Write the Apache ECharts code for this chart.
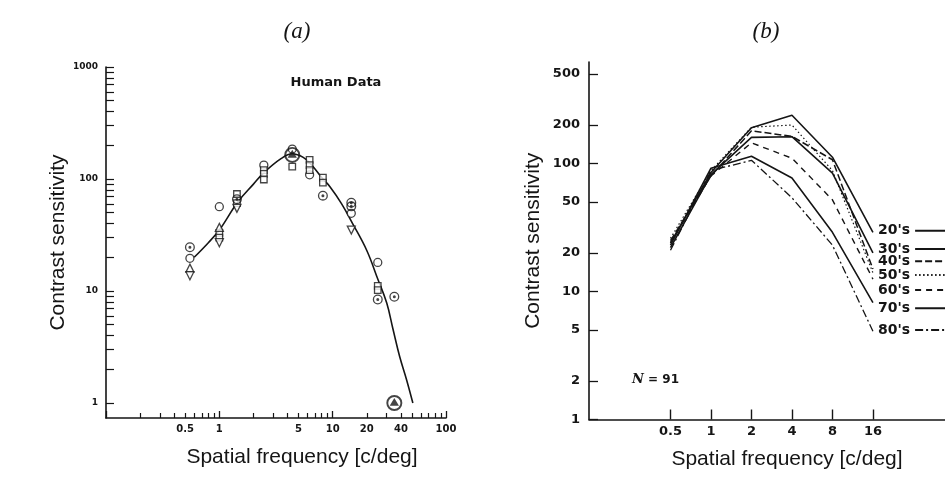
<!DOCTYPE html>
<html><head><meta charset="utf-8">
<script src="https://cdn.jsdelivr.net/npm/echarts@6/dist/echarts.min.js"></script>
<style>html,body{margin:0;padding:0;background:#fff}#c{width:945px;height:478px}</style>
</head><body><div id="c"></div>
<script>
// ---------- Panel (a): Human data ----------
const aXLabels = [0.5, 1, 5, 10, 20, 40, 100];
const aXMajorTicks = [0.1, 1, 10, 100];
const aXMinorTicks = [0.2, 0.3, 0.4, 0.5, 0.6, 0.7, 0.8, 0.9, 2, 3, 4, 5, 6, 7, 8, 9, 20, 30, 40, 50, 60, 70, 80, 90];
const aYLabels = [1, 10, 100, 1000];
const aYTicks = [1, 2, 3, 4, 5, 6, 7, 8, 9, 10, 20, 30, 40, 50, 60, 70, 80, 90, 100, 200, 300, 400, 500, 600, 700, 800, 900, 1000];

const aOpenCircles = [[0.55, 19.6], [1, 56.6], [2.47, 133], [4.4, 185], [6.26, 109], [14.6, 49.4], [25, 18]];
const aSquares = [[1, 33], [1, 30], [1.43, 73.5], [1.43, 61], [2.47, 120], [2.47, 111], [2.47, 99], [4.4, 129],
                  [6.26, 148], [6.26, 133], [6.26, 120], [8.2, 103], [8.2, 93], [25, 11.1], [25, 10.2]];
const aTriangles = [[0.55, 16], [1, 37]];
const aInvTriangles = [[0.55, 13.7], [1, 27], [1.43, 54.7], [14.6, 35]];
const aCircledDots = [[0.55, 24.6], [1.43, 66], [8.2, 71], [14.6, 61.4], [14.6, 57], [25, 8.4], [35, 8.9]];
const aCircledTriangles = [[4.4, 164], [35, 1.0]];
const aFitCurve = [[0.6, 20], [0.8, 27], [1, 35], [1.45, 62], [2, 90], [2.45, 113], [3.5, 152], [4.4, 168], [5.5, 156],
                   [6.5, 134], [8, 103], [9.5, 85], [12, 60], [15, 40], [20, 23], [25, 12.8], [30, 7.8], [34, 4.6],
                   [39, 2.6], [45, 1.6], [51, 1.0]];

// ---------- Panel (b): age groups ----------
const bFreq = [0.5, 1, 2, 4, 8, 16];
const bYTicks = [1, 2, 5, 10, 20, 50, 100, 200, 500];
const bAgeGroups = ["20's", "30's", "40's", "50's", "60's", "70's", "80's"];
const b20s = [24, 85, 190, 238, 112, 29];
const b30s = [22, 82, 160, 162, 84, 20];
const b40s = [25, 80, 180, 163, 107, 15];
const b50s = [26, 88, 192, 200, 88, 14];
const b60s = [24, 80, 145, 110, 52, 12.5];
const b70s = [23, 92, 114, 77, 29, 8.2];
const b80s = [21, 88, 106, 54, 23, 4.9];

const INK = '#151515';
const fmt = v => String(+(+v).toPrecision(6));

const chart = echarts.init(document.getElementById('c'), null, {renderer: 'canvas'});

const circleDot = 'path://M0,10A10,10,0,1,1,20,10A10,10,0,1,1,0,10ZM2.6,10A7.4,7.4,0,1,0,17.4,10A7.4,7.4,0,1,0,2.6,10ZM7,10A3,3,0,1,1,13,10A3,3,0,1,1,7,10Z';
const circleTri = 'path://M0,10A10,10,0,1,1,20,10A10,10,0,1,1,0,10ZM2.4,10A7.6,7.6,0,1,0,17.6,10A7.6,7.6,0,1,0,2.4,10ZM10,3.6L15.8,13.4L4.2,13.4Z';

const bStyles = [
  {type: 'solid', width: 1.6},
  {type: 'solid', width: 1.6},
  {type: [7, 3], width: 1.5},
  {type: [1.5, 2.5], width: 1.2},
  {type: [6, 5], width: 1.4},
  {type: 'solid', width: 1.6},
  {type: [8, 3, 2, 3], width: 1.3}
];
const bValues = [b20s, b30s, b40s, b50s, b60s, b70s, b80s];
const bLegendY = [231.7, 250, 262.3, 276, 291, 309.3, 331];

const tickLbl = (size) => ({color: INK, fontFamily: 'DejaVu Sans', fontWeight: 'bold', fontSize: size});
const nameStyle = {color: INK, fontFamily: 'Liberation Sans', fontSize: 21};

const option = {
  animation: false,
  backgroundColor: '#fff',
  title: [
    {text: '(a)', left: 297, top: 20, textAlign: 'center', padding: 0,
     textStyle: {fontFamily: 'Liberation Serif', fontStyle: 'italic', fontWeight: 'normal', fontSize: 23, color: INK}},
    {text: '(b)', left: 766, top: 20, textAlign: 'center', padding: 0,
     textStyle: {fontFamily: 'Liberation Serif', fontStyle: 'italic', fontWeight: 'normal', fontSize: 23, color: INK}},
    {text: 'Spatial frequency [c/deg]', left: 302, top: 447, textAlign: 'center', padding: 0, textStyle: Object.assign({fontWeight: 'normal'}, nameStyle)},
    {text: 'Spatial frequency [c/deg]', left: 787, top: 449, textAlign: 'center', padding: 0, textStyle: Object.assign({fontWeight: 'normal'}, nameStyle)},
    {text: 'Human Data', left: 336, top: 76, textAlign: 'center', padding: 0,
     textStyle: {fontFamily: 'DejaVu Sans', fontWeight: 'bold', fontSize: 13, color: INK}},
    {text: '{i|N} = 91', left: 632, top: 373, padding: 0,
     textStyle: {fontFamily: 'DejaVu Sans', fontWeight: 'bold', fontSize: 12, color: INK,
       rich: {i: {fontFamily: 'DejaVu Serif', fontStyle: 'italic', fontWeight: 'bold', fontSize: 13, color: INK}}}}
  ],
  legend: bAgeGroups.map((g, i) => ({
    data: [g], left: 878, top: bLegendY[i] - 8, align: 'right', padding: 0, orient: 'vertical',
    itemWidth: 32, itemHeight: 12, itemGap: 0, selectedMode: false,
    itemStyle: {color: 'rgba(0,0,0,0)', borderWidth: 0, opacity: 0},
    textStyle: {color: INK, fontFamily: 'DejaVu Sans', fontWeight: 'bold', fontSize: 14}
  })),
  grid: [
    {left: 106, top: 67, width: 340, height: 351},
    {left: 589, top: 62, width: 356, height: 357.5}
  ],
  xAxis: [
    {type: 'log', gridIndex: 0, position: 'bottom', min: 0.1, max: 100,
     axisLine: {show: true, lineStyle: {color: INK, width: 1.6}},
     axisTick: {show: true, inside: true, length: 7, customValues: aXMajorTicks, lineStyle: {color: INK, width: 1.3}},
     axisLabel: {customValues: aXLabels, formatter: fmt, margin: 6, ...tickLbl(10)},
     splitLine: {show: false}, minorTick: {show: false}},
    {type: 'log', gridIndex: 0, position: 'bottom', min: 0.1, max: 100,
     axisLine: {show: false},
     axisTick: {show: true, inside: true, length: 5, customValues: aXMinorTicks, lineStyle: {color: INK, width: 1.2}},
     axisLabel: {show: false}, splitLine: {show: false}},
    {type: 'log', gridIndex: 1, position: 'bottom', min: 0.1239, max: 54.95,
     axisLine: {show: true, lineStyle: {color: INK, width: 1.6}},
     axisTick: {show: true, inside: true, length: 10, customValues: bFreq, lineStyle: {color: INK, width: 1.4}},
     axisLabel: {customValues: bFreq, formatter: fmt, margin: 6, ...tickLbl(13)},
     splitLine: {show: false}}
  ],
  yAxis: [
    {type: 'log', gridIndex: 0, min: 0.735, max: 1000,
     name: 'Contrast sensitivity', nameLocation: 'middle', nameRotate: 90, nameGap: 35, nameTextStyle: nameStyle,
     axisLine: {show: true, lineStyle: {color: INK, width: 1.6}},
     axisTick: {show: true, inside: true, length: 8, customValues: aYTicks, lineStyle: {color: INK, width: 1.2}},
     axisLabel: {customValues: aYLabels, formatter: fmt, margin: 8, ...tickLbl(9)},
     splitLine: {show: false}},
    {type: 'log', gridIndex: 1, min: 1, max: 621,
     name: 'Contrast sensitivity', nameLocation: 'middle', nameRotate: 90, nameGap: 45, nameTextStyle: nameStyle,
     axisLine: {show: true, lineStyle: {color: INK, width: 1.6}},
     axisTick: {show: true, inside: true, length: 9, customValues: bYTicks, lineStyle: {color: INK, width: 1.3}},
     axisLabel: {customValues: bYTicks, formatter: fmt, margin: 9, ...tickLbl(13)},
     splitLine: {show: false}}
  ],
  series: [
    {type: 'line', name: 'fit', xAxisIndex: 0, yAxisIndex: 0, data: aFitCurve, smooth: 0.4, symbol: 'none',
     lineStyle: {color: INK, width: 1.6}, z: 2},
    {type: 'scatter', xAxisIndex: 0, yAxisIndex: 0, data: aOpenCircles, symbol: 'circle', symbolSize: 8,
     itemStyle: {color: '#fff', borderColor: INK, borderWidth: 1.3}, z: 3},
    {type: 'scatter', xAxisIndex: 0, yAxisIndex: 0, data: aSquares, symbol: 'rect', symbolSize: 6.5,
     itemStyle: {color: '#fff', borderColor: INK, borderWidth: 1.3}, z: 3},
    {type: 'scatter', xAxisIndex: 0, yAxisIndex: 0, data: aTriangles, symbol: 'triangle', symbolSize: 8,
     itemStyle: {color: '#fff', borderColor: INK, borderWidth: 1.3}, z: 3},
    {type: 'scatter', xAxisIndex: 0, yAxisIndex: 0, data: aInvTriangles, symbol: 'triangle', symbolRotate: 180, symbolSize: 8,
     itemStyle: {color: '#fff', borderColor: INK, borderWidth: 1.3}, z: 3},
    {type: 'scatter', xAxisIndex: 0, yAxisIndex: 0, data: aCircledDots, symbol: circleDot, symbolSize: 10,
     itemStyle: {color: INK, borderWidth: 0}, z: 4},
    {type: 'scatter', xAxisIndex: 0, yAxisIndex: 0, data: aCircledTriangles, symbol: circleTri, symbolSize: 16,
     itemStyle: {color: INK, borderWidth: 0}, z: 4}
  ].concat(bAgeGroups.map((g, i) => ({
    type: 'line', name: g, xAxisIndex: 2, yAxisIndex: 1,
    data: bFreq.map((f, k) => [f, bValues[i][k]]),
    symbol: 'none', showSymbol: false, smooth: false,
    lineStyle: Object.assign({color: INK}, bStyles[i]),
    itemStyle: {color: INK}
  })))
};
chart.setOption(option);
</script>
</body></html>
